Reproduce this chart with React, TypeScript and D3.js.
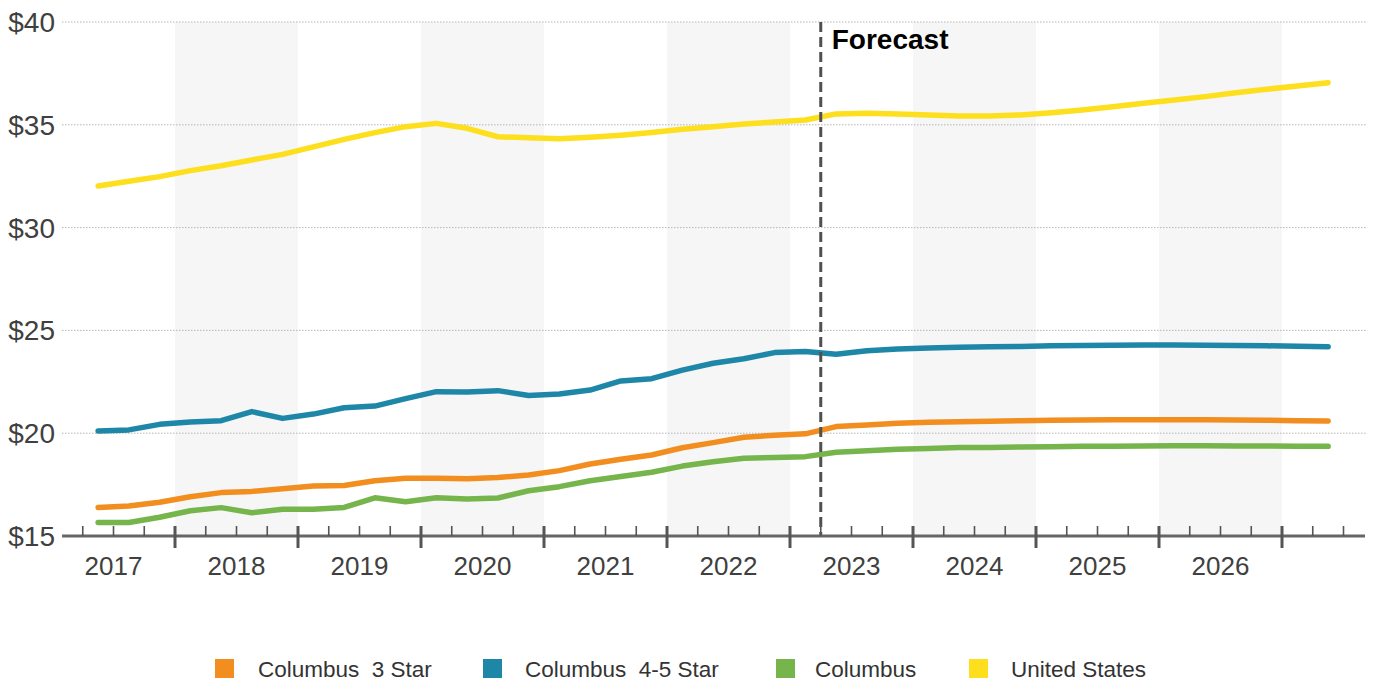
import React from "react";
import * as d3 from "d3";

const periods = [
  "2017Q2","2017Q3","2017Q4",
  "2018Q1","2018Q2","2018Q3","2018Q4",
  "2019Q1","2019Q2","2019Q3","2019Q4",
  "2020Q1","2020Q2","2020Q3","2020Q4",
  "2021Q1","2021Q2","2021Q3","2021Q4",
  "2022Q1","2022Q2","2022Q3","2022Q4",
  "2023Q1","2023Q2","2023Q3","2023Q4",
  "2024Q1","2024Q2","2024Q3","2024Q4",
  "2025Q1","2025Q2","2025Q3","2025Q4",
  "2026Q1","2026Q2","2026Q3","2026Q4",
  "2027Q1","2027Q2",
];

const columbus3Star = [
  16.39, 16.46, 16.64, 16.91, 17.11, 17.17, 17.30, 17.43, 17.46, 17.69, 17.81,
  17.81, 17.79, 17.84, 17.97, 18.18, 18.50, 18.73, 18.94, 19.29, 19.54, 19.80,
  19.90, 19.97, 20.32, 20.40, 20.48, 20.53, 20.56, 20.58, 20.61, 20.63, 20.64,
  20.65, 20.66, 20.66, 20.65, 20.64, 20.63, 20.61, 20.59,
];
const columbus45Star = [
  20.11, 20.16, 20.43, 20.54, 20.61, 21.05, 20.72, 20.93, 21.24, 21.32, 21.68,
  22.02, 22.00, 22.07, 21.83, 21.91, 22.10, 22.54, 22.65, 23.07, 23.40, 23.62,
  23.92, 23.97, 23.84, 24.01, 24.10, 24.14, 24.18, 24.21, 24.22, 24.25, 24.27,
  24.28, 24.29, 24.29, 24.28, 24.26, 24.25, 24.23, 24.21,
];
const columbus = [
  15.66, 15.66, 15.91, 16.23, 16.38, 16.13, 16.30, 16.30, 16.39, 16.86, 16.67,
  16.86, 16.80, 16.85, 17.20, 17.40, 17.69, 17.89, 18.10, 18.40, 18.61, 18.78,
  18.82, 18.86, 19.07, 19.15, 19.22, 19.26, 19.30, 19.31, 19.33, 19.34, 19.36,
  19.37, 19.38, 19.39, 19.39, 19.38, 19.38, 19.37, 19.36,
];
const unitedStates = [
  32.02, 32.25, 32.48, 32.77, 33.01, 33.29, 33.56, 33.93, 34.29, 34.62, 34.91,
  35.07, 34.83, 34.42, 34.37, 34.32, 34.39, 34.49, 34.62, 34.78, 34.91, 35.04,
  35.14, 35.23, 35.53, 35.56, 35.53, 35.48, 35.43, 35.43, 35.48, 35.59, 35.72,
  35.88, 36.05, 36.21, 36.37, 36.56, 36.73, 36.89, 37.05,
];

const years = [2017, 2018, 2019, 2020, 2021, 2022, 2023, 2024, 2025, 2026];
const shadedYears = [2018, 2020, 2022, 2024, 2026];
const yTicks = [15, 20, 25, 30, 35, 40];
const forecastStart = "2023Q2";

const series = [
  { name: "Columbus  3 Star", color: "#F28E1F", values: columbus3Star },
  { name: "Columbus  4-5 Star", color: "#1E87A8", values: columbus45Star },
  { name: "Columbus", color: "#75B54B", values: columbus },
  { name: "United States", color: "#FDDF1D", values: unitedStates },
];
const drawOrder = [3, 1, 0, 2];

const W = 1374;
const H = 681;
const axisY = 536;
const topY = 22;
const axisStart = 62;
const axisEnd = 1365;

function periodTime(p: string) {
  const y = +p.slice(0, 4);
  const q = +p.slice(5);
  return y + (q - 0.5) / 4;
}
function periodStart(p: string) {
  const y = +p.slice(0, 4);
  const q = +p.slice(5);
  return y + (q - 1) / 4;
}

export default function App() {
  const x = d3.scaleLinear().domain([2017, 2027]).range([52, 1282]);
  const y = d3.scaleLinear().domain([15, 40]).range([axisY, topY]);

  const line = d3
    .line<number>()
    .x((_, i) => x(periodTime(periods[i])))
    .y((d) => y(d))
    .curve(d3.curveLinear);

  const quarterTicks: number[] = [];
  for (let t = 2017; t <= 2028; t += 0.25) {
    const px = x(t);
    if (px > axisStart + 2 && px < axisEnd - 2) quarterTicks.push(t);
  }

  const fx = x(periodStart(forecastStart));

  const legendItems = [
    { sq: 215, tx: 258 },
    { sq: 483, tx: 525 },
    { sq: 776, tx: 815 },
    { sq: 969, tx: 1011 },
  ];

  return (
    <svg
      width={W}
      height={H}
      style={{ position: "absolute", left: 0, top: 0, background: "#fff" }}
      fontFamily="'Liberation Sans', Arial, sans-serif"
    >
      {shadedYears.map((yr) => (
        <rect
          key={yr}
          x={x(yr)}
          y={topY}
          width={x(yr + 1) - x(yr)}
          height={axisY - topY}
          fill="#F6F6F6"
        />
      ))}
      {yTicks
        .filter((v) => v > 15)
        .map((v) => (
          <line
            key={v}
            x1={axisStart}
            x2={axisEnd + 2}
            y1={y(v)}
            y2={y(v)}
            stroke="#B5B5B5"
            strokeWidth={1}
            strokeDasharray="1.5,1.5"
          />
        ))}
      {yTicks.map((v) => (
        <text
          key={"l" + v}
          x={55}
          y={y(v) + 10}
          textAnchor="end"
          fontSize={28}
          fill="#404040"
        >
          {"$" + v}
        </text>
      ))}
      {drawOrder.map((i) => {
        const s = series[i];
        return (
          <path
            key={s.name}
            d={line(s.values) || ""}
            fill="none"
            stroke={s.color}
            strokeWidth={5.5}
            strokeLinejoin="round"
            strokeLinecap="round"
          />
        );
      })}
      <line
        x1={fx}
        x2={fx}
        y1={topY}
        y2={axisY}
        stroke="#505050"
        strokeWidth={3}
        strokeDasharray="10,5"
      />
      <text x={fx + 11} y={49} fontSize={28} fontWeight="bold" fill="#000">
        Forecast
      </text>
      <line
        x1={axisStart}
        x2={axisEnd}
        y1={axisY}
        y2={axisY}
        stroke="#666"
        strokeWidth={3}
      />
      {quarterTicks.map((t) => {
        const major = Math.abs(t - Math.round(t)) < 1e-6;
        return (
          <line
            key={"t" + t}
            x1={x(t)}
            x2={x(t)}
            y1={526}
            y2={major ? 548 : 536}
            stroke="#555"
            strokeWidth={major ? 3 : 1.6}
          />
        );
      })}
      {years.map((yr) => (
        <text
          key={"y" + yr}
          x={x(yr + 0.5)}
          y={575}
          textAnchor="middle"
          fontSize={26}
          fill="#404040"
        >
          {yr}
        </text>
      ))}
      {series.map((s, i) => (
        <g key={"lg" + i}>
          <rect x={legendItems[i].sq} y={659} width={19} height={19} fill={s.color} />
          <text
            x={legendItems[i].tx}
            y={677}
            fontSize={22.5}
            fill="#333"
            style={{ whiteSpace: "pre" }}
          >
            {s.name}
          </text>
        </g>
      ))}
    </svg>
  );
}
